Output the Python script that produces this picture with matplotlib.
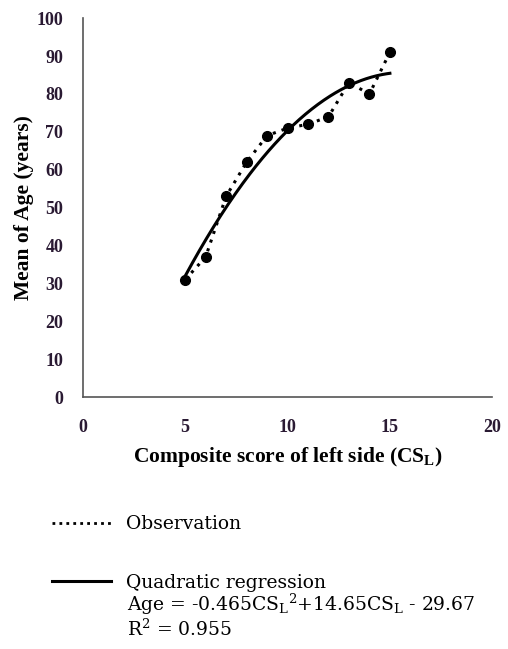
import numpy as np
import matplotlib
matplotlib.use("Agg")
import matplotlib.pyplot as plt
from matplotlib.lines import Line2D

plt.rcParams['font.family'] = ['Liberation Serif', 'DejaVu Serif']
plt.rcParams['mathtext.fontset'] = 'custom'
plt.rcParams['mathtext.rm'] = 'DejaVu Serif'
plt.rcParams['mathtext.it'] = 'DejaVu Serif:italic'
plt.rcParams['mathtext.bf'] = 'Liberation Serif:bold'

cs_left = [5, 6, 7, 8, 9, 10, 11, 12, 13, 14, 15]
mean_age = [31, 37, 53, 62, 69, 71, 72, 74, 83, 80, 91]

# quadratic regression coefficients as printed on the chart
reg_coef = [-0.465, 14.65, -29.67]

x_ticks = [0, 5, 10, 15, 20]
y_ticks = [0, 10, 20, 30, 40, 50, 60, 70, 80, 90, 100]

fig = plt.figure(figsize=(5.08, 6.49), dpi=100)
ax = fig.add_axes([0.163, 0.388, 0.806, 0.584])

xs = np.linspace(min(cs_left), max(cs_left), 200)
reg_line, = ax.plot(xs, np.polyval(reg_coef, xs), color='black', lw=2.2)
ax.plot(cs_left, mean_age, color='black', ls=(0, (1, 2)), lw=2.2,
        marker='o', ms=7)

ax.set_xlim(0, 20)
ax.set_ylim(0, 100)
ax.set_xticks(x_ticks)
ax.set_yticks(y_ticks)
ax.tick_params(length=0, labelsize=13, labelcolor='#2a1a33')
ax.tick_params(axis='x', pad=16)
ax.tick_params(axis='y', pad=14)
for lab in ax.get_xticklabels() + ax.get_yticklabels():
    lab.set_fontweight('bold')
for s in ['top', 'right']:
    ax.spines[s].set_visible(False)
for s in ['left', 'bottom']:
    ax.spines[s].set_color('#555555')
    ax.spines[s].set_linewidth(1.2)

ax.set_xlabel(r'Composite score of left side (CS$_\mathbf{L}$)',
              fontsize=15.5, fontweight='bold', labelpad=6)
ax.set_ylabel('Mean of Age (years)', fontsize=15.5, fontweight='bold',
              labelpad=2)

legend_font = {'family': 'DejaVu Serif', 'size': 13.5}
obs_handle = Line2D([], [], color='black', ls=(0, (1, 1.5)), lw=2)
fig.legend(handles=[obs_handle, reg_line],
           labels=['Observation', 'Quadratic regression'],
           loc='upper left', bbox_to_anchor=(0.07, 0.232),
           frameon=False, prop=legend_font, handlelength=3.15,
           handletextpad=0.78, labelspacing=2.15)
fig.text(0.25, 0.069, r'Age = -0.465CS$_\mathrm{L}$$^\mathrm{2}$+14.65CS$_\mathrm{L}$ - 29.67',
         fontdict=legend_font, va='center')
fig.text(0.25, 0.030, r'R$^\mathrm{2}$ = 0.955', fontdict=legend_font,
         va='center')

fig.savefig('out.png', dpi=100)
